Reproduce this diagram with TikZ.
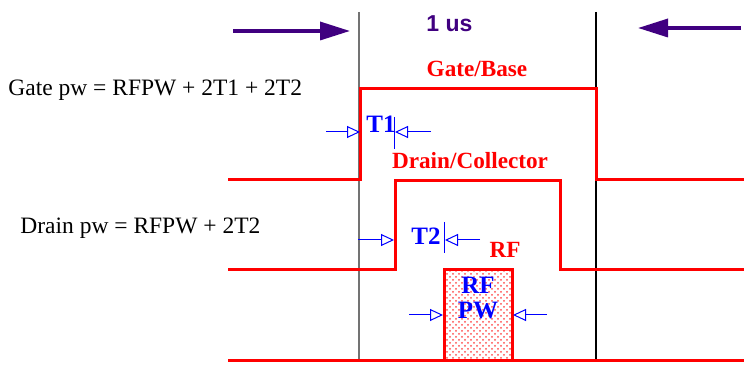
\documentclass[tikz,border=0pt]{standalone}
\usepackage{fontspec}
\setmainfont{Liberation Serif}
\newfontfamily\arialfont{Liberation Sans}
\usetikzlibrary{arrows.meta, patterns}
\definecolor{usviolet}{RGB}{64,0,128}

\begin{document}
\begin{tikzpicture}[x=0.5pt, y=-0.5pt,
  sig/.style={red, line width=1.5pt, line join=miter},
  winline/.style={line width=0.6pt},
  bigarr/.style={-{Triangle[length=15pt, width=9pt]}, usviolet, line width=1.7pt},
  tarr/.style={-{Triangle[open, length=6.5pt, width=6pt]}, blue, line width=0.5pt},
  tickline/.style={blue, line width=0.5pt},
  eqn/.style={anchor=base west, inner sep=0pt, font=\fontsize{11.75}{14}\selectfont},
  redlbl/.style={anchor=base, red, font=\fontsize{11.6}{14}\selectfont\bfseries},
  bluelbl/.style={blue, font=\fontsize{12.5}{12.5}\selectfont\bfseries, align=center}
]
  \useasboundingbox (0,0) rectangle (744,367);

  %% 1 us window
  \coordinate (wl top) at (359,12);  \coordinate (wl bot) at (359,362);
  \coordinate (wr top) at (596,12);  \coordinate (wr bot) at (596,362);
  \draw[winline, black!55] (wl top) -- (wl bot);
  \draw[winline, black] (wr top) -- (wr bot);
  \node[anchor=base west, inner sep=0pt, usviolet, font=\arialfont\fontsize{11.5}{13}\selectfont\bfseries] (us) at (426,32) {1 us};
  \coordinate (ua) at (233,31);  \coordinate (ub) at (350,31);
  \coordinate (uc) at (741,28);  \coordinate (ud) at (638,28);
  \draw[bigarr] (ua) -- (ub);
  \draw[bigarr] (uc) -- (ud);

  %% Gate/Base
  \node[eqn] (gatepw) at (8,96) {Gate pw = RFPW + 2T1 + 2T2};
  \node[redlbl] (gate) at (477,77) {Gate/Base};
  \coordinate (g0) at (228,180);  \coordinate (g1) at (360,180);
  \coordinate (g2) at (360,89);   \coordinate (g3) at (596,89);
  \coordinate (g4) at (596,180);  \coordinate (g5) at (744,180);
  \draw[sig] (g0) -- (g1) -- (g2) -- (g3) -- (g4) -- (g5);

  %% T1
  \node[bluelbl, anchor=base] (t1) at (381,133) {T1};
  \coordinate (t1a) at (326,132);  \coordinate (t1b) at (360,132);
  \coordinate (t1c) at (431,132);  \coordinate (t1d) at (395,132);
  \draw[tarr] (t1a) -- (t1b);
  \draw[tarr] (t1c) -- (t1d);
  \draw[tickline] (394,117) -- (394,149);

  %% Drain/Collector
  \node[eqn] (drainpw) at (20,234) {Drain pw = RFPW + 2T2};
  \node[redlbl] (drain) at (470,169) {Drain/Collector};
  \coordinate (d0) at (228,270);  \coordinate (d1) at (395,270);
  \coordinate (d2) at (395,181);  \coordinate (d3) at (560,181);
  \coordinate (d4) at (560,270);  \coordinate (d5) at (744,270);
  \draw[sig] (d0) -- (d1) -- (d2) -- (d3) -- (d4) -- (d5);

  %% T2
  \node[bluelbl, anchor=base] (t2) at (426,245) {T2};
  \coordinate (t2a) at (358,240);  \coordinate (t2b) at (394,240);
  \coordinate (t2c) at (480,240);  \coordinate (t2d) at (445,240);
  \draw[tarr] (t2a) -- (t2b);
  \draw[tarr] (t2c) -- (t2d);
  \draw[tickline] (444,222) -- (444,253);

  %% RF
  \node[redlbl] (rf) at (505,258) {RF};
  \coordinate (r0) at (228,361);  \coordinate (r1) at (744,361);
  \draw[sig] (r0) -- (r1);
  \draw[sig, pattern=crosshatch dots, pattern color=red!70] (444,361) rectangle (512,270);
  \node[bluelbl] (rfpw) at (478,298) {RF\\PW};
  \coordinate (pa) at (409,315);  \coordinate (pb) at (443,315);
  \coordinate (pc) at (547,315);  \coordinate (pd) at (513,315);
  \draw[tarr] (pa) -- (pb);
  \draw[tarr] (pc) -- (pd);
\end{tikzpicture}
\end{document}
